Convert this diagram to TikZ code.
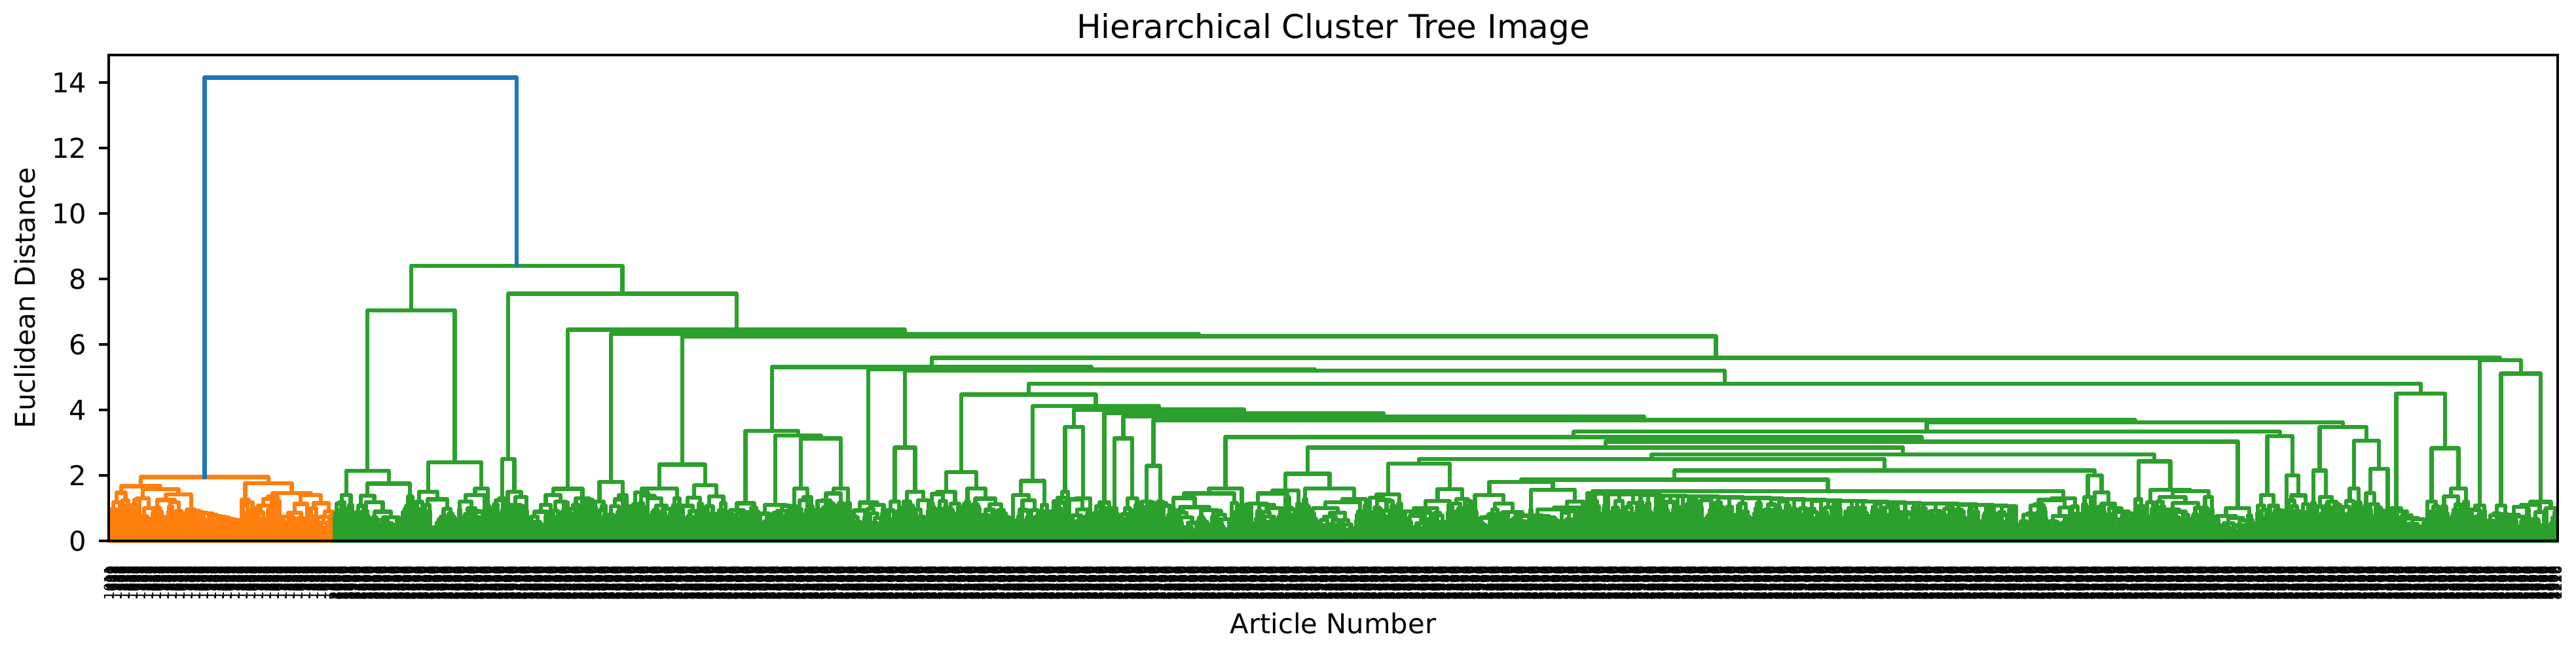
\documentclass[tikz,border=0pt]{standalone}
\usepackage{fontspec}
\setmainfont{DejaVu Sans}
\definecolor{cA}{HTML}{1F77B4}
\definecolor{cB}{HTML}{FF7F0E}
\definecolor{cC}{HTML}{2CA02C}
\def\dcol{cA}
\def\spc{2}
\def\chgs{3}
\tikzset{
  dline/.style={line width=1.5pt,draw=\dcol,line join=round,line cap=rect},
  spine/.style={line width=0.8pt,draw=black},
  ticklab/.style={font=\fontsize{10}{12}\selectfont,inner sep=0pt},
  leaflab/.style={font=\fontsize{5}{6}\selectfont,inner sep=0pt,rotate=90,anchor=east},
}
% one link of the tree: #1 height, #2 left subtree code, #3 right subtree code
\newcommand\Dnode[3]{%
  \begingroup
  #2\let\cL\retc\let\hL\reth
  #3\let\cR\retc\let\hR\reth
  \draw[dline] (\cL,\hL) -- (\cL,#1) -- (\cR,#1) -- (\cR,\hR);
  \pgfmathsetmacro\cM{(\cL+\cR)/2}%
  \xdef\retc{\cM}\xdef\reth{#1}%
  \endgroup}
\newcommand\Col[2]{\begingroup\def\dcol{#1}#2\endgroup}
\newcommand\Hch[2]{%
  \ifnum#1<2 \def\hc{0}\else
  \pgfmathsetmacro\hc{max(0.3,min(#2-0.03,min(#2*(0.75+0.23*rnd),0.79+0.22*ln(#1)+0.2*(rnd-0.5))))}%
  \fi}
\newcommand\Rnd[3]{\edef\tmpcall{\noexpand\RndI{#1}{#2}{#3}}\tmpcall}
\newcommand\RndI[3]{%
  \ifnum#1=#2\relax
    \pgfmathsetmacro\tmpx{166+(#1+0.5)*\spc}%
    \xdef\retc{\tmpx}\xdef\reth{0}%
  \else
    \begingroup
    \pgfmathtruncatemacro\nn{#2-#1+1}%
    \pgfmathsetmacro\uu{rnd}%
    \ifdim\uu pt<0.45pt
      \pgfmathsetmacro\fr{0.2+0.6*rnd}%
    \else
      \pgfmathsetmacro\fr{0.03+0.22*rnd}%
      \pgfmathsetmacro\vv{rnd}%
      \ifdim\vv pt<0.5pt \pgfmathsetmacro\fr{1-\fr}\fi
    \fi
    \pgfmathtruncatemacro\nL{max(1,min(\nn-1,round(\fr*\nn)))}%
    \pgfmathtruncatemacro\kk{#1+\nL-1}%
    \pgfmathtruncatemacro\kn{\kk+1}%
    \pgfmathtruncatemacro\nR{\nn-\nL}%
    \Hch{\nL}{#3}\let\hhL\hc
    \Hch{\nR}{#3}\let\hhR\hc
    \Dnode{#3}{\Rnd{#1}{\kk}{\hhL}}{\Rnd{\kn}{#2}{\hhR}}%
    \endgroup
  \fi}
\newcommand\Chn[4]{\edef\tmpcall{\noexpand\ChnI{#1}{#2}{#3}{#4}}\tmpcall}
\newcommand\ChnI[4]{%
  \begingroup
  \pgfmathtruncatemacro\nn{#2-#1+1}%
  \pgfmathtruncatemacro\cg{2+floor(\chgs*rnd)}%
  \ifnum\nn<\numexpr\cg+3\relax
    \Rnd{#1}{#2}{#3}%
  \else
    \pgfmathtruncatemacro\kk{#1+\cg-1}\pgfmathtruncatemacro\kn{\kk+1}%
    \pgfmathsetmacro\hn{#3-(#3-#4)*\cg/\nn}%
    \Hch{\cg}{#3}\let\hhL\hc
    \Dnode{#3}{\Rnd{#1}{\kk}{\hhL}}{\Chn{\kn}{#2}{\hn}{#4}}%
  \fi
  \endgroup}
% pixel ranges -> leaf index ranges
\newcommand\Rx[3]{\pgfmathtruncatemacro\ia{round((#1-166)/\spc)}\pgfmathtruncatemacro\ib{round((#2-166)/\spc)-1}\Rnd{\ia}{\ib}{#3}}
\newcommand\Chx[5]{\def\chgs{#5}\pgfmathtruncatemacro\ia{round((#1-166)/\spc)}\pgfmathtruncatemacro\ib{round((#2-166)/\spc)-1}\Chn{\ia}{\ib}{#3}{#4}}
% two-part cluster: #1 x0, #2 xm, #3 x1, #4 top, #5 left top, #6 right top
\newcommand\Px[6]{\Dnode{#4}{\Rx{#1}{#2}{#5}}{\Rx{#2}{#3}{#6}}}
\begin{document}
\begin{tikzpicture}[x=0.24pt,y=12pt]
\pgfmathsetseed{4242}
\useasboundingbox (0,-3.18) rectangle (3934,16.52);
\def\dcol{cA}
\Dnode{14.15}{\Col{cB}{%
  \Dnode{1.95}
    {\Dnode{1.67}{\Rx{166}{198}{1.47}}
       {\Dnode{1.58}{\Rx{198}{236}{1.3}}
          {\Dnode{1.42}{\Rx{236}{280}{1.25}}{\Chx{280}{368}{0.95}{0.56}{3}}}}}
    {\Dnode{1.76}{\Rx{368}{388}{1.25}}
       {\Dnode{1.46}{\Rx{388}{428}{1.35}}{\Rx{428}{510}{1.4}}}}%
}}{\Col{cC}{%
  \Dnode{8.4}
    {\Dnode{7.04}{\Px{510}{540}{632}{2.14}{1.4}{1.75}}{\Px{632}{700}{752}{2.40}{1.5}{1.6}}}
    {\Dnode{7.55}{\Px{752}{772}{805}{2.50}{1.3}{1.5}}
     {\Dnode{6.45}{\Px{805}{870}{905}{1.59}{1.4}{1.3}}
      {\Dnode{6.32}{\Px{905}{925}{960}{1.80}{1.2}{1.4}}
       {\Dnode{6.25}{\Px{960}{1040}{1110}{2.33}{1.6}{1.7}}
        {\Dnode{5.59}
          {\Dnode{5.31}
            {\Dnode{3.36}{\Rx{1110}{1160}{1.15}}
               {\Dnode{3.22}{\Rx{1160}{1210}{1.1}}
                  {\Dnode{3.13}{\Rx{1210}{1245}{1.6}}{\Rx{1245}{1300}{1.6}}}}}
            {\Dnode{5.24}{\Rx{1300}{1352}{1.17}}
              {\Dnode{5.20}{\Px{1352}{1375}{1420}{2.85}{1.2}{1.5}}
                {\Dnode{4.8}
                  {\Dnode{4.47}{\Px{1420}{1470}{1545}{2.1}{1.5}{1.6}}
                    {\Dnode{4.12}{\Px{1545}{1590}{1605}{1.83}{1.4}{1.1}}
                      {\Dnode{4.01}{\Px{1605}{1632}{1665}{3.48}{1.5}{1.3}}
                        {\Dnode{3.9}{\Rx{1665}{1695}{1.17}}
                          {\Dnode{3.8}{\Px{1695}{1710}{1740}{3.13}{1.0}{1.3}}
                            {\Dnode{3.69}{\Px{1740}{1765}{1790}{2.29}{1.2}{1.2}}
                              {\Dnode{3.62}
                                {\Dnode{3.34}
                                   {\Dnode{3.17}{\Rx{1790}{1900}{1.6}}
                                     {\Dnode{3.03}
                                       {\Dnode{2.85}{\Rx{1900}{2090}{2.05}}
                                         {\Dnode{2.64}
                                           {\Dnode{2.5}{\Rx{2090}{2250}{2.36}}
                                             {\Dnode{2.15}
                                               {\Dnode{1.87}{\Rx{2250}{2420}{1.8}}
                                                 {\Dnode{1.52}{\Chx{2420}{3080}{1.45}{1.05}{10}}{\Rx{3080}{3180}{1.3}}}}
                                               {\Rx{3180}{3260}{2.0}}}}
                                           {\Rx{3260}{3380}{2.43}}}}
                                       {\Rx{3380}{3445}{1.0}}}}
                                   {\Dnode{3.2}{\Rx{3445}{3490}{1.4}}{\Rx{3490}{3530}{2.0}}}}
                                {\Dnode{3.48}{\Rx{3530}{3575}{2.15}}{\Px{3575}{3610}{3650}{3.06}{1.6}{2.2}}}}}}}}}}
                  {\Dnode{4.5}{\Rx{3650}{3705}{1.0}}{\Px{3705}{3725}{3770}{2.83}{1.2}{1.6}}}}}}}
          {\Dnode{5.52}{\Rx{3770}{3795}{1.08}}
             {\Dnode{5.11}{\Rx{3795}{3830}{1.08}}{\Px{3830}{3885}{3906}{1.19}{1.1}{1.0}}}}}}}}}%
}}
% frame
\draw[spine] (166,0) rectangle (3906,14.84);
% y ticks
\foreach \v in {0,2,...,14}{%
  \draw[spine] (151.4,\v) -- (166,\v);
  \node[ticklab,anchor=east] (yt\v) at (133,\v) {\v};
}
% leaf labels
\foreach \i in {0,...,1869}{%
  \ifnum\i<172
    \count255=\i \multiply\count255 by 389 \advance\count255 by 11
    \count254=\count255 \divide\count254 by 1000 \multiply\count254 by 1000
    \advance\count255 by -\count254
    \count254=\i \divide\count254 by 6 \multiply\count254 by 6
    \ifnum\count254=\i \advance\count255 by 1000 \fi
  \else
    \count255=\i \multiply\count255 by 613 \advance\count255 by 29
    \count254=\count255 \divide\count254 by 2900 \multiply\count254 by 2900
    \advance\count255 by -\count254 \advance\count255 by 1000
  \fi
  \edef\lab{\the\count255}%
  \node[leaflab] (lf\i) at ({167+2*\i},-0.74) {\lab};
}
\node[font=\fontsize{12}{14}\selectfont,inner sep=0pt,anchor=base] (title) at (2036,15.34) {Hierarchical Cluster Tree Image};
\node[ticklab,anchor=base] (xlabel) at (2036,-2.84) {Article Number};
\node[ticklab,rotate=90] (ylabel) at (38,7.42) {Euclidean Distance};
\end{tikzpicture}
\end{document}
